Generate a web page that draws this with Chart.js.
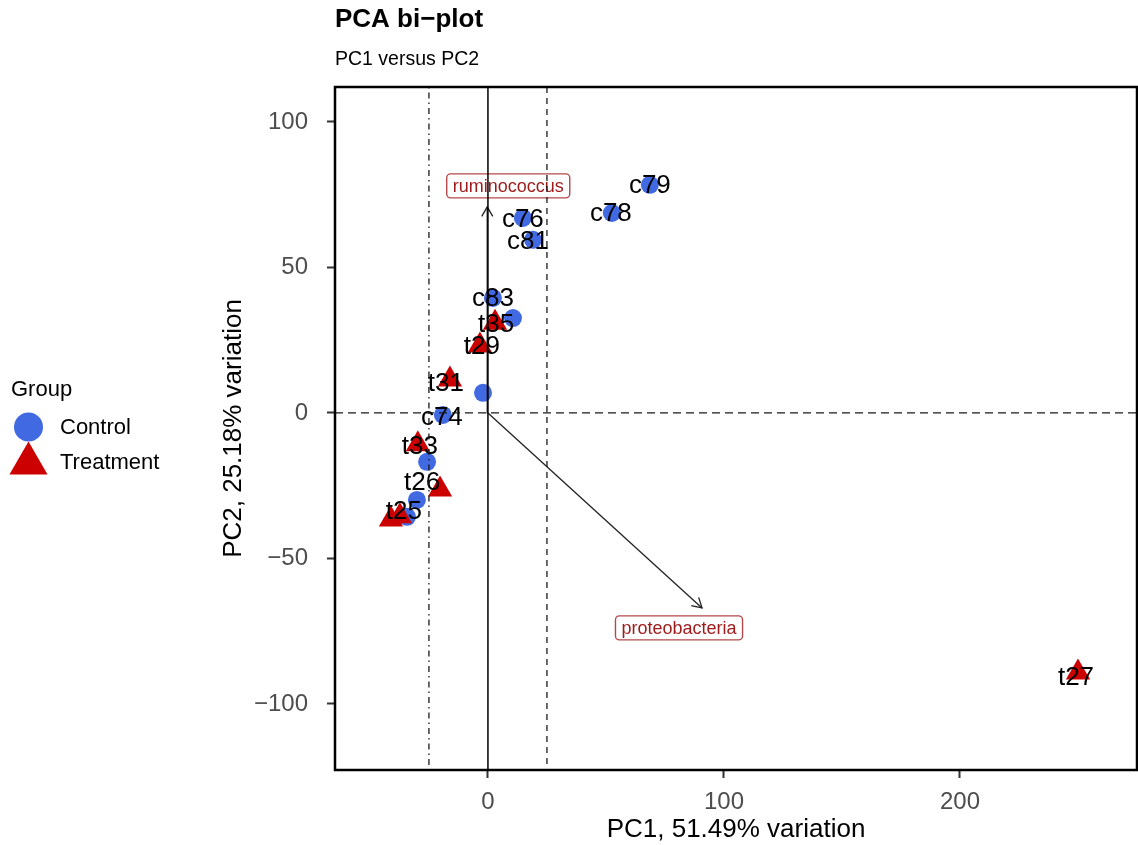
<!DOCTYPE html>
<html>
<head>
<meta charset="utf-8">
<title>PCA bi-plot</title>
<script src="https://cdn.jsdelivr.net/npm/chart.js@4/dist/chart.umd.min.js"></script>
<style>
  html, body { margin: 0; padding: 0; background: #ffffff; }
  canvas { display: block; }
</style>
</head>
<body>
<canvas id="pca" width="1138" height="845"></canvas>
<script>
// Sample scores on the first two principal components
const controlNames = ['c79', 'c78', 'c76', 'c81', 'c83', '', '', 'c74', '', '', ''];
const controlPC1   = [68.6, 52.5, 14.8, 19.1, 2.1, 10.6, -2.1, -19.1, -25.8, -30.1, -34.3];
const controlPC2   = [78.4, 68.7, 67.0, 59.5, 39.5, 32.6, 6.9, -0.7, -16.8, -29.9, -35.7];

const treatmentNames = ['t35', 't29', 't31', 't33', 't26', 't25', '', 't27'];
const treatmentPC1   = [3.0, -3.4, -16.1, -29.7, -20.3, -37.3, -41.1, 250.0];
const treatmentPC2   = [31.0, 23.2, 11.5, -10.8, -26.3, -35.5, -36.6, -89.2];

// Loading vectors (arrows drawn from the origin)
const loadingNames = ['ruminococcus', 'proteobacteria'];
const loadingPC1   = [-0.3, 90.7];
const loadingPC2   = [70.8, -67.0];

// Axis ticks and reference lines
const xTicks = [0, 100, 200];
const yTicks = [-100, -50, 0, 50, 100];
const vLines = [-25, 0, 25];
const vLineDash = [[1.5, 4, 6, 4], [], [6, 5]];
const hLines = [0];

// Pixel nudges for text labels (repelled placement)
const labelNudge = {
  c78: [-1, 0], c76: [0, 1], c81: [-5, 1], t35: [1, 1], t29: [2, 0],
  t31: [-4, 3], c74: [-1, 2], t33: [2, 1], t26: [-18, -8], t25: [4, -5], t27: [-2, 4]
};
const loadingLabelNudge = { ruminococcus: [21, -21], proteobacteria: [-23, 20] };

const FONT = '"Liberation Sans", Arial, Helvetica, sans-serif';
const CONTROL_COL = '#4169E1';
const TREAT_COL = '#CD0000';

const fmtTick = v => (v < 0 ? '\u2212' + Math.abs(v) : String(v));

function trianglePath(ctx, x, y, r) {
  let rad = 0;
  ctx.beginPath();
  ctx.moveTo(x + Math.sin(rad) * r, y - Math.cos(rad) * r);
  rad += 2 * Math.PI / 3;
  ctx.lineTo(x + Math.sin(rad) * r, y - Math.cos(rad) * r);
  rad += 2 * Math.PI / 3;
  ctx.lineTo(x + Math.sin(rad) * r, y - Math.cos(rad) * r);
  ctx.closePath();
}

function roundRect(ctx, x, y, w, h, r) {
  ctx.beginPath();
  ctx.moveTo(x + r, y);
  ctx.lineTo(x + w - r, y);
  ctx.arcTo(x + w, y, x + w, y + r, r);
  ctx.lineTo(x + w, y + h - r);
  ctx.arcTo(x + w, y + h, x + w - r, y + h, r);
  ctx.lineTo(x + r, y + h);
  ctx.arcTo(x, y + h, x, y + h - r, r);
  ctx.lineTo(x, y + r);
  ctx.arcTo(x, y, x + r, y, r);
  ctx.closePath();
}

const biplotDecor = {
  id: 'biplotDecor',
  afterDatasetsDraw(chart) {
    const { ctx, chartArea: a, scales: { x, y } } = chart;
    ctx.save();

    // sample labels
    ctx.font = '26px ' + FONT;
    ctx.fillStyle = '#000';
    ctx.textAlign = 'center';
    ctx.textBaseline = 'middle';
    const drawLabels = (names, xs, ys) => {
      names.forEach((n, i) => {
        if (!n) return;
        const d = labelNudge[n] || [0, 0];
        ctx.fillText(n, x.getPixelForValue(xs[i]) + d[0], y.getPixelForValue(ys[i]) + d[1] + 1);
      });
    };
    drawLabels(controlNames, controlPC1, controlPC2);
    drawLabels(treatmentNames, treatmentPC1, treatmentPC2);

    // loading arrowheads and boxed names
    const x0 = x.getPixelForValue(0), y0 = y.getPixelForValue(0);
    loadingNames.forEach((n, i) => {
      const tx = x.getPixelForValue(loadingPC1[i]);
      const ty = y.getPixelForValue(loadingPC2[i]);
      const ang = Math.atan2(ty - y0, tx - x0);
      const len = 11, spread = Math.PI / 6;
      ctx.strokeStyle = '#222';
      ctx.lineWidth = 1.3;
      ctx.beginPath();
      ctx.moveTo(tx - len * Math.cos(ang - spread), ty - len * Math.sin(ang - spread));
      ctx.lineTo(tx, ty);
      ctx.lineTo(tx - len * Math.cos(ang + spread), ty - len * Math.sin(ang + spread));
      ctx.stroke();

      const d = loadingLabelNudge[n] || [0, 0];
      ctx.font = '18px ' + FONT;
      const w = ctx.measureText(n).width + 12;
      const h = 24;
      const cx = tx + d[0], cy = ty + d[1];
      roundRect(ctx, cx - w / 2, cy - h / 2, w, h, 4);
      ctx.fillStyle = '#ffffff';
      ctx.fill();
      ctx.strokeStyle = '#B5484A';
      ctx.lineWidth = 1.4;
      ctx.stroke();
      ctx.fillStyle = '#9E1B1B';
      ctx.textAlign = 'center';
      ctx.textBaseline = 'middle';
      ctx.fillText(n, cx, cy + 1);
    });

    // reference lines
    ctx.beginPath();
    ctx.rect(a.left, a.top, a.right - a.left, a.bottom - a.top);
    ctx.clip();
    vLines.forEach((v, i) => {
      const px = x.getPixelForValue(v);
      ctx.setLineDash(vLineDash[i]);
      ctx.strokeStyle = v === 0 ? '#000' : '#1a1a1a';
      ctx.lineWidth = v === 0 ? 1.5 : 1.3;
      ctx.beginPath();
      ctx.moveTo(px, a.top);
      ctx.lineTo(px, a.bottom);
      ctx.stroke();
    });
    hLines.forEach(v => {
      const py = y.getPixelForValue(v);
      ctx.setLineDash([8, 5]);
      ctx.strokeStyle = '#1a1a1a';
      ctx.lineWidth = 1.3;
      ctx.beginPath();
      ctx.moveTo(a.left, py);
      ctx.lineTo(a.right, py);
      ctx.stroke();
    });
    ctx.restore();

    // panel border
    ctx.save();
    ctx.strokeStyle = '#000';
    ctx.lineWidth = 2.5;
    ctx.strokeRect(a.left, a.top, a.right - a.left, a.bottom - a.top);
    ctx.restore();
  },
  afterDraw(chart) {
    const { ctx, chartArea: a } = chart;
    ctx.save();
    ctx.fillStyle = '#000';
    ctx.textAlign = 'left';
    ctx.textBaseline = 'alphabetic';
    ctx.font = 'bold 26px ' + FONT;
    ctx.fillText('PCA bi\u2212plot', a.left, 27);
    ctx.font = '19.5px ' + FONT;
    ctx.fillText('PC1 versus PC2', a.left, 65);

    // group legend
    ctx.font = '22px ' + FONT;
    ctx.textBaseline = 'middle';
    ctx.fillText('Group', 11, 390);
    const ds = chart.data.datasets;
    ctx.fillStyle = ds[0].backgroundColor;
    ctx.beginPath();
    ctx.arc(28.5, 427, 14.5, 0, Math.PI * 2);
    ctx.fill();
    ctx.fillStyle = ds[1].backgroundColor;
    trianglePath(ctx, 28.5, 463.5, 22);
    ctx.fill();
    ctx.fillStyle = '#000';
    ctx.fillText(ds[0].label, 60, 428);
    ctx.fillText(ds[1].label, 60, 463);
    ctx.restore();
  }
};

const toPoints = (xs, ys) => xs.map((v, i) => ({ x: v, y: ys[i] }));

const datasets = [
  {
    label: 'Control',
    data: toPoints(controlPC1, controlPC2),
    pointStyle: 'circle',
    pointRadius: 9,
    pointHoverRadius: 9,
    backgroundColor: CONTROL_COL,
    borderWidth: 0,
    order: 3
  },
  {
    label: 'Treatment',
    data: toPoints(treatmentPC1, treatmentPC2),
    pointStyle: 'triangle',
    pointRadius: 14,
    pointHoverRadius: 14,
    backgroundColor: TREAT_COL,
    borderWidth: 0,
    order: 2
  }
];
loadingNames.forEach((n, i) => {
  datasets.push({
    label: n,
    type: 'line',
    data: [{ x: 0, y: 0 }, { x: loadingPC1[i], y: loadingPC2[i] }],
    borderColor: '#222',
    borderWidth: 1.3,
    pointRadius: 0,
    pointHoverRadius: 0,
    fill: false,
    tension: 0,
    order: 1
  });
});

const axisGrid = {
  display: true,
  drawOnChartArea: false,
  drawTicks: true,
  tickLength: 8,
  tickWidth: 2,
  tickColor: '#333',
  color: '#333'
};

new Chart(document.getElementById('pca'), {
  type: 'scatter',
  data: { datasets },
  plugins: [biplotDecor],
  options: {
    responsive: false,
    animation: false,
    events: [],
    layout: { autoPadding: false, padding: { top: 87, right: 1, bottom: 0, left: 0 } },
    plugins: {
      legend: { display: false },
      tooltip: { enabled: false },
      title: { display: false }
    },
    scales: {
      x: {
        type: 'linear',
        min: -64.8,
        max: 275,
        afterBuildTicks: s => { s.ticks = xTicks.map(v => ({ value: v })); },
        afterFit: s => {
          s.height = 75;
          s.paddingLeft = 0;
          s.paddingRight = 0;
        },
        grid: axisGrid,
        border: { display: false },
        ticks: {
          color: '#4D4D4D',
          font: { family: FONT, size: 24 },
          padding: 10,
          maxRotation: 0,
          callback: v => fmtTick(v)
        },
        title: {
          display: true,
          text: 'PC1, 51.49% variation',
          color: '#000',
          font: { family: FONT, size: 26 },
          padding: { top: 0, bottom: 0 }
        }
      },
      y: {
        type: 'linear',
        min: -122.7,
        max: 112,
        afterBuildTicks: s => { s.ticks = yTicks.map(v => ({ value: v })); },
        afterFit: s => {
          s.width = 335;
          s.paddingTop = 0;
          s.paddingBottom = 0;
        },
        grid: axisGrid,
        border: { display: false },
        ticks: {
          color: '#4D4D4D',
          font: { family: FONT, size: 24 },
          padding: 19,
          callback: v => fmtTick(v)
        },
        title: {
          display: true,
          text: 'PC2, 25.18% variation',
          color: '#000',
          font: { family: FONT, size: 26 },
          padding: { top: 218, bottom: 0 }
        }
      }
    }
  }
});
</script>
</body>
</html>
